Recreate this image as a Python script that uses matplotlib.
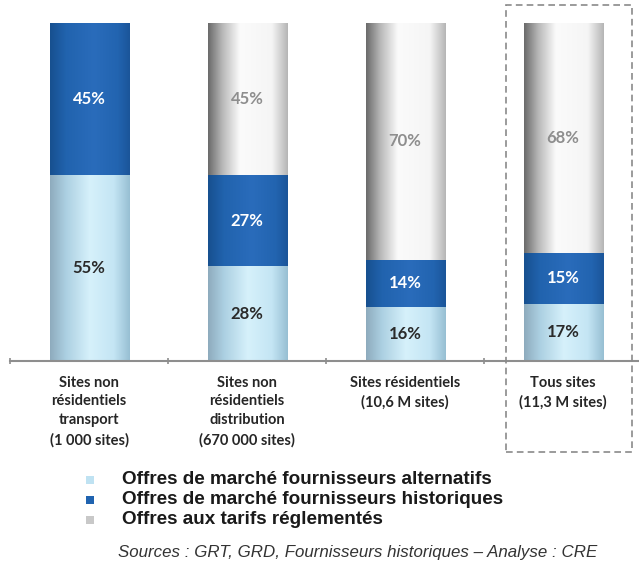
import numpy as np
import matplotlib.pyplot as plt
from matplotlib.colors import LinearSegmentedColormap
from matplotlib.patches import Rectangle

categories = ["Sites non\nrésidentiels\ntransport\n(1 000 sites)",
              "Sites non\nrésidentiels\ndistribution\n(670 000 sites)",
              "Sites résidentiels\n(10,6 M sites)",
              "Tous sites\n(11,3 M sites)"]
alternatifs = [55, 28, 16, 17]
historiques = [45, 27, 14, 15]
reglementes = [0, 45, 70, 68]
series_names = ["Offres de marché fournisseurs alternatifs",
                "Offres de marché fournisseurs historiques",
                "Offres aux tarifs réglementés"]
source = "Sources : GRT, GRD, Fournisseurs historiques \u2013 Analyse : CRE"

# cylinder-like shading for each series
cmaps = [
    LinearSegmentedColormap.from_list("alt", [(0, "#8eabbd"), (0.2, "#acd0e2"), (0.5, "#d6f1fb"),
                                              (0.8, "#c4e5f4"), (1, "#97bfd3")]),
    LinearSegmentedColormap.from_list("hist", [(0, "#17508f"), (0.2, "#2163ae"), (0.55, "#2a6cbb"),
                                               (0.85, "#2264b0"), (1, "#1b5599")]),
    LinearSegmentedColormap.from_list("reg", [(0, "#6a6a6a"), (0.18, "#b8b8b8"), (0.4, "#fbfbfb"),
                                              (0.8, "#f5f5f5"), (1, "#b5b5b5")]),
]
legend_colors = ["#bfe2f2", "#1f63b0", "#c8c8c8"]
label_colors = ["#2a2a2a", "white", "#8e8e8e"]

fig = plt.figure(figsize=(6.39, 5.64), dpi=100)
ax = fig.add_axes([10/639, 203/564, 629/639, 338/564])

x = np.arange(len(categories))
grad = np.linspace(0, 1, 256).reshape(1, -1)
bottom = np.zeros(len(categories))
for vals, cmap, tc in zip([alternatifs, historiques, reglementes], cmaps, label_colors):
    bars = ax.bar(x, vals, 0.5, bottom=bottom, color="none", edgecolor="none")
    for b, v in zip(bars, vals):
        if v == 0:
            continue
        im = ax.imshow(grad, cmap=cmap, aspect="auto", interpolation="bilinear",
                       extent=[b.get_x(), b.get_x() + b.get_width(), b.get_y(), b.get_y() + b.get_height()])
        im.set_clip_path(b)
        ax.text(b.get_x() + b.get_width()/2, b.get_y() + b.get_height()/2, f"{v}%",
                ha="center", va="center", color=tc, fontsize=12, fontweight="bold", family="Lato")
    bottom = bottom + np.array(vals)

ax.set_xlim(-0.5, 3.48)
ax.set_ylim(0, 100)
for s in ["top", "right", "left"]:
    ax.spines[s].set_visible(False)
ax.spines["bottom"].set_color("#8e8e8e")
ax.spines["bottom"].set_linewidth(1.5)
ax.set_yticks([])
ax.set_xticks([-0.5, 0.5, 1.5, 2.5])
ax.set_xticklabels([])
ax.tick_params(axis="x", length=5, width=1.2, color="#8e8e8e", direction="inout")

for i, c in enumerate(categories):
    ax.text(i, -4.3, c, ha="center", va="top", fontsize=10.5, fontweight="bold",
            family="Lato", color="#262626", linespacing=1.45)

# dashed frame around the total
fig.add_artist(Rectangle((506/639, 112/564), 126/639, 447/564, transform=fig.transFigure,
                         fill=False, edgecolor="#8a8a8a", linestyle=(0, (4, 2.5)), linewidth=1.2))

for k, (name, col) in enumerate(zip(series_names, legend_colors)):
    yy = 1 - (480 + k*20)/564
    fig.add_artist(Rectangle((86/639, yy - 4/564), 8/639, 8/564, transform=fig.transFigure,
                             facecolor=col, edgecolor="none"))
    fig.text(122/639, yy, name, ha="left", va="center", fontsize=13.6, fontweight="bold",
             family="Liberation Sans", color="#1a1a1a")

fig.text(118/639, 1 - 553/564, source, ha="left", va="center", fontsize=12.2, style="italic",
         family="Liberation Sans", color="#333333")

plt.savefig("out.png", dpi=100)
